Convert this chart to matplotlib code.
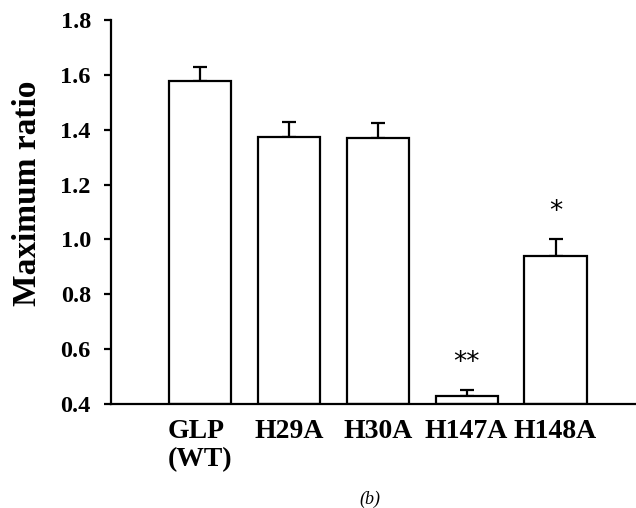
import numpy as np
import matplotlib.pyplot as plt

plt.rcParams['font.family'] = 'Liberation Serif'

labels = ['GLP\n(WT)', 'H29A', 'H30A', 'H147A', 'H148A']
ratio = [1.579, 1.373, 1.369, 0.430, 0.940]
err = [0.048, 0.055, 0.054, 0.021, 0.060]
stars = ['', '', '', '**', '*']

x = np.arange(len(labels))

fig = plt.figure(figsize=(6.36, 5.08), dpi=100)
ax = fig.add_axes([0.1745, 0.2047, 0.8255, 0.7559])

ax.bar(x, np.array(ratio) - 0.4, bottom=0.4, width=0.70, color='white',
       edgecolor='black', linewidth=1.6, zorder=2)
ax.errorbar(x, ratio, yerr=[np.zeros(len(err)), err], fmt='none',
            ecolor='black', elinewidth=1.6, capsize=4.7, capthick=1.6, zorder=1)

for xi, r, e, s in zip(x, ratio, err, stars):
    if s:
        ax.text(xi, r + e + 0.10, s, ha='center', va='center', fontsize=19,
                family='DejaVu Sans')

ax.set_xlim(-1.0, 4.905)
ax.set_ylim(0.4, 1.8)
ax.set_yticks([0.4, 0.6, 0.8, 1.0, 1.2, 1.4, 1.6, 1.8])
ax.set_yticklabels(['%.1f' % v for v in ax.get_yticks()], fontsize=17.5,
                   fontweight='bold')
ax.set_xticks(x)
ax.set_xticklabels(labels, fontsize=20, fontweight='bold', linespacing=1.15,
                   multialignment='left')
ax.tick_params(axis='x', length=0, pad=11)
ax.tick_params(axis='y', direction='out', length=5, width=1.6, pad=9.5)

ax.spines['top'].set_visible(False)
ax.spines['right'].set_visible(False)
ax.spines['left'].set_linewidth(1.6)
ax.spines['bottom'].set_linewidth(1.6)

ax.set_ylabel('Maximum ratio', fontsize=24, fontweight='bold')
ax.yaxis.set_label_coords(-0.129, 0.55)

fig.text(0.582, 0.018, '(b)', fontsize=13, style='italic', ha='center',
         va='center')

fig.savefig('out.png', dpi=100)
